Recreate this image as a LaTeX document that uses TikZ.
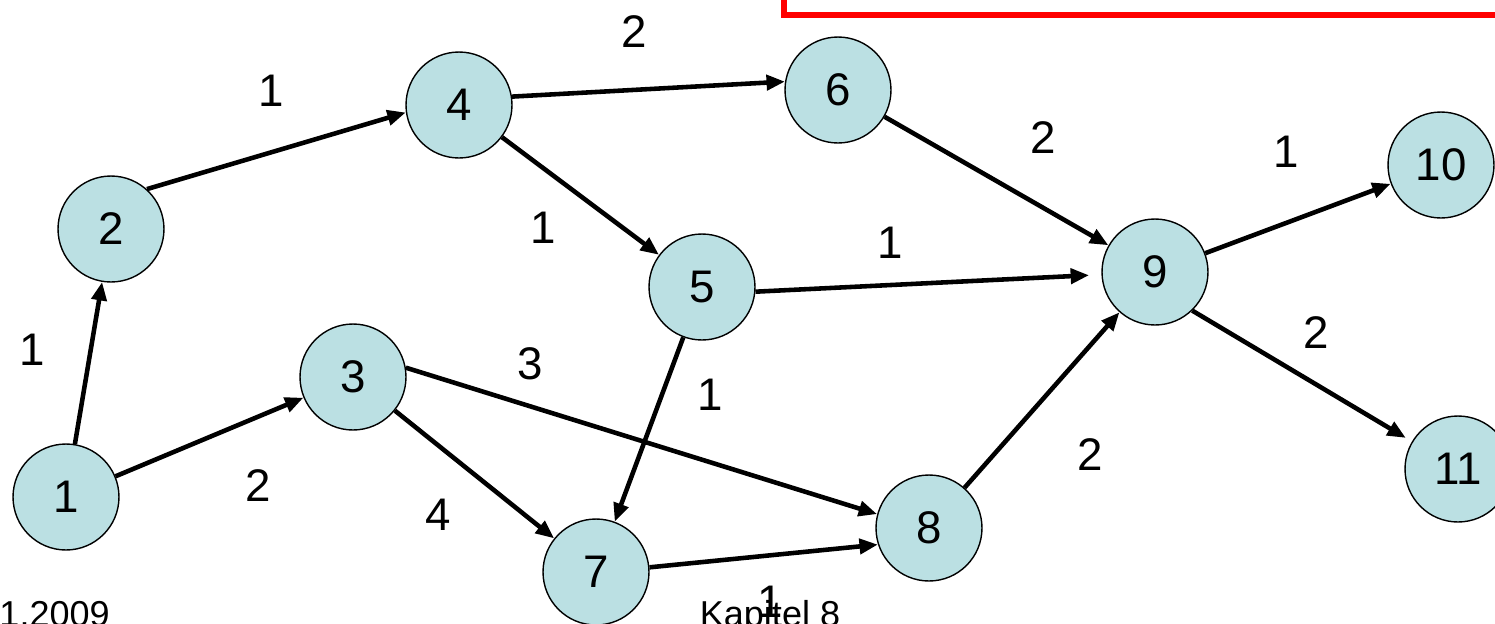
\documentclass[tikz,border=0pt]{standalone}
\usepackage{fontspec}
\setmainfont{Liberation Sans}
\usetikzlibrary{arrows.meta}
\definecolor{nodeblue}{RGB}{187,224,227}
\definecolor{framered}{RGB}{255,0,0}

\tikzset{
    vertex/.style={circle, draw=black, line width=0.8pt, fill=nodeblue,
        minimum size=2.12cm, inner sep=0pt, font=\fontsize{26}{30}\selectfont},
    edge/.style={line width=2.6pt, -{Triangle[length=10.5pt,width=8.5pt]}},
    weight/.style={font=\fontsize{26}{30}\selectfont, inner sep=0pt},
    footer/.style={font=\fontsize{20.5}{24}\selectfont, inner sep=0pt},
}

\begin{document}
\begin{tikzpicture}[x=0.02cm, y=-0.02cm]
    \useasboundingbox (0,0) rectangle (1495,623);
    \clip (0,0) rectangle (1495,623);
    % Frame at the top right
    \draw[framered, line width=0.11cm] (784,-60) rectangle (1530,15);
    % Vertices
    \node[vertex] (n1) at (66,497) {1};
    \node[vertex] (n2) at (111,229) {2};
    \node[vertex] (n3) at (353,377) {3};
    \node[vertex] (n4) at (459,105) {4};
    \node[vertex] (n5) at (702,287) {5};
    \node[vertex] (n6) at (838,90) {6};
    \node[vertex] (n7) at (596,572) {7};
    \node[vertex] (n8) at (929,528) {8};
    \node[vertex] (n9) at (1155,272) {9};
    \node[vertex] (n10) at (1441,165) {10};
    \node[vertex] (n11) at (1458,469) {11};
    % Edges
    \draw[edge] (n1) -- (n2);
    \draw[edge] (n1) -- (n3);
    \draw[edge] (n2.48) -- (n4.188);
    \draw[edge] (n4.9) -- (n6.171);
    \draw[edge] (n4) -- (n5);
    \draw[edge] (n3.10) -- (n8.165);
    \draw[edge] (n3) -- (n7);
    \draw[edge] (n5) -- (n7);
    \draw[edge, shorten >=7pt] (n5.-5) -- (n9);
    \draw[edge] (n6) -- (n9);
    \draw[edge] (n7.5) -- (n8.198);
    \draw[edge] (n8) -- (n9);
    \draw[edge] (n9) -- (n10);
    \draw[edge, shorten >=4pt] (n9.-46) -- (n11);
    % Weights
    \node[weight] (w12) at (32,350) {1};
    \node[weight] (w13) at (258,486) {2};
    \node[weight] (w24) at (271,91) {1};
    \node[weight] (w46) at (634,32) {2};
    \node[weight] (w45) at (543,228) {1};
    \node[weight] (w38) at (530,364) {3};
    \node[weight] (w37) at (438,515) {4};
    \node[weight] (w57) at (710,395) {1};
    \node[weight] (w59) at (890,243) {1};
    \node[weight] (w69) at (1043,138) {2};
    \node[weight] (w78) at (770,602) {1};
    \node[weight] (w89) at (1090,455) {2};
    \node[weight] (w910) at (1286,152) {1};
    \node[weight] (w911) at (1316,333) {2};
    % Footer
    \node[footer, anchor=base east] (date) at (110,626) {1.2009};
    \node[footer, anchor=base] (chapter) at (770,626) {Kapitel 8};
\end{tikzpicture}
\end{document}
